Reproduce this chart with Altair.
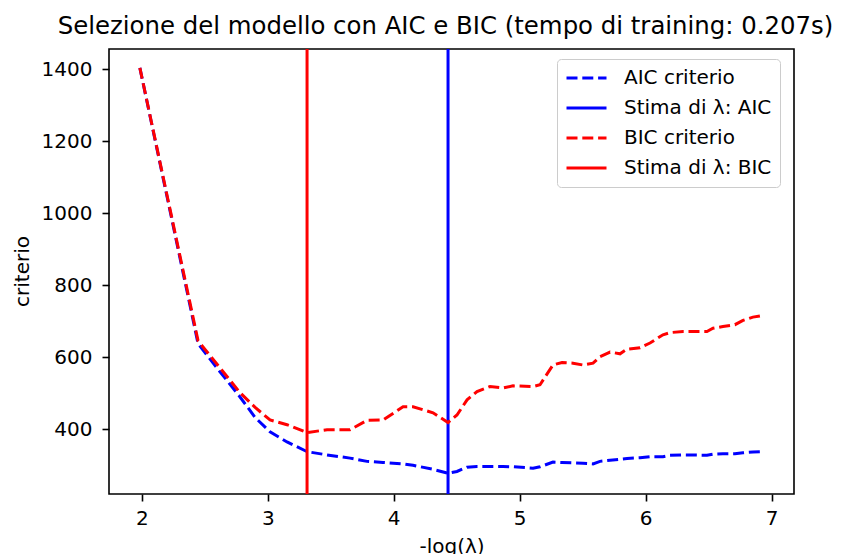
import altair as alt
import pandas as pd

# -log(lambda) values along the LARS path
neg_log_lambda = [1.985, 2.447, 2.621, 2.780, 2.900, 3.018, 3.153, 3.312, 3.471, 3.653,
                  3.788, 3.915, 4.074, 4.153, 4.312, 4.431, 4.502, 4.582, 4.661, 4.764,
                  4.867, 4.947, 5.106, 5.161, 5.264, 5.336, 5.423, 5.502, 5.582, 5.637,
                  5.717, 5.796, 5.852, 5.955, 6.034, 6.137, 6.193, 6.296, 6.486, 6.534,
                  6.613, 6.708, 6.772, 6.851, 6.921]
aic_values = [1404, 637, 559, 489, 432, 392, 364, 337, 328, 319,
              310, 307, 303, 299, 288, 277, 282, 294, 296, 296,
              296, 295, 291, 295, 308, 307, 306, 305, 303, 310,
              313, 316, 318, 320, 323, 323, 327, 328, 327, 330,
              331, 331, 334, 336, 337]
bic_values = [1404, 645, 570, 501, 460, 425, 412, 390, 398, 398,
              424, 425, 462, 462, 445, 418, 439, 481, 504, 518,
              514, 520, 518, 523, 578, 585, 583, 578, 583, 601,
              614, 609, 622, 626, 639, 662, 668, 671, 671, 680,
              685, 690, 702, 711, 715]
lambda_aic = 4.431
lambda_bic = 3.312

series_names = ["AIC criterio", "Stima di λ: AIC", "BIC criterio", "Stima di λ: BIC"]
series_colors = ["#0000ff", "#0000ff", "#ff0000", "#ff0000"]
series_dashes = [[11, 4.8], [1, 0], [11, 4.8], [1, 0]]

aic_df = pd.DataFrame({"x": neg_log_lambda, "y": aic_values, "serie": series_names[0]})
bic_df = pd.DataFrame({"x": neg_log_lambda, "y": bic_values, "serie": series_names[2]})
aic_rule_df = pd.DataFrame({"x": [lambda_aic], "serie": [series_names[1]]})
bic_rule_df = pd.DataFrame({"x": [lambda_bic], "serie": [series_names[3]]})

FONT = "DejaVu Sans"

legend = alt.Legend(
    title=None, orient="none", legendX=448, legendY=10,
    symbolType="stroke", symbolSize=1600, symbolStrokeWidth=3,
    labelFontSize=20, labelFont=FONT, labelColor="black",
    padding=8, strokeColor="#cccccc", fillColor="white", cornerRadius=4,
    labelOffset=16, labelLimit=400, clipHeight=22, rowPadding=8,
)
color = alt.Color("serie:N", scale=alt.Scale(domain=series_names, range=series_colors), legend=legend)
dash = alt.StrokeDash("serie:N", scale=alt.Scale(domain=series_names, range=series_dashes), legend=legend)

xenc = alt.X("x:Q", scale=alt.Scale(domain=[1.74, 7.177], nice=False, zero=False),
             axis=alt.Axis(values=[2, 3, 4, 5, 6, 7], format="d", title="-log(λ)",
                           titleY=42, titleBaseline="top"))
yenc = alt.Y("y:Q", scale=alt.Scale(domain=[219.3, 1456.4], nice=False, zero=False),
             axis=alt.Axis(values=[400, 600, 800, 1000, 1200, 1400], format="d", title="criterio",
                           labelPadding=10,
                           titleX=-87, titleY=222, titleBaseline="middle", titleAngle=270))

aic_line = alt.Chart(aic_df).mark_line(strokeWidth=3).encode(x=xenc, y=yenc, color=color, strokeDash=dash)
aic_rule = alt.Chart(aic_rule_df).mark_rule(strokeWidth=3).encode(x=xenc, color=color, strokeDash=dash)
bic_line = alt.Chart(bic_df).mark_line(strokeWidth=3).encode(x=xenc, y=yenc, color=color, strokeDash=dash)
bic_rule = alt.Chart(bic_rule_df).mark_rule(strokeWidth=3).encode(x=xenc, color=color, strokeDash=dash)

chart = alt.layer(aic_line, aic_rule, bic_line, bic_rule).properties(
    width=685, height=445,
    title=alt.TitleParams("Selezione del modello con AIC e BIC (tempo di training: 0.207s)",
                          fontSize=24.4, font=FONT, fontWeight="normal", color="black",
                          anchor="middle", baseline="alphabetic", offset=13, dy=24, dx=-6),
    autosize=alt.AutoSizeParams(type="none"),
    padding={"left": 101, "top": 41, "right": 42, "bottom": 60},
).configure_view(
    stroke="black", strokeWidth=1.6
).configure_axis(
    domain=False, grid=False, tickSize=7, tickWidth=1.6, tickColor="black",
    labelFont=FONT, labelFontSize=20, labelColor="black", labelPadding=7,
    titleFont=FONT, titleFontSize=20, titleFontWeight="normal", titleColor="black",
)

chart.save("out.html", embed_options={"renderer": "svg", "actions": False})
